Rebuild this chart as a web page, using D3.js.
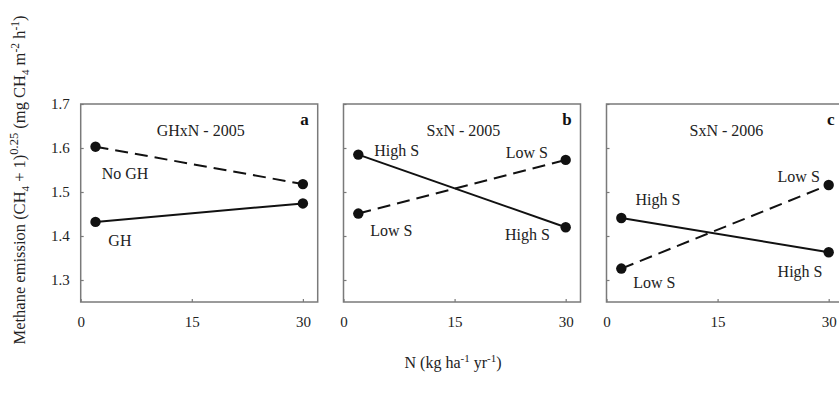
<!DOCTYPE html>
<html>
<head>
<meta charset="utf-8">
<script src="https://cdn.jsdelivr.net/npm/d3@7"></script>
<style>
  html, body { margin: 0; padding: 0; background: #fff; }
  svg { display: block; font-family: "Liberation Serif", "Times New Roman", serif; }
</style>
</head>
<body>
<svg id="chart" width="839" height="402"></svg>
<script>
// ---- data ----
const nLevels = [2, 30];
const xTicks = [0, 15, 30];
const yTicks = [1.3, 1.4, 1.5, 1.6, 1.7];

const panelTitles = ["GHxN - 2005", "SxN - 2005", "SxN - 2006"];
const panelLetters = ["a", "b", "c"];

const aNoGH = [1.603, 1.518];
const aGH = [1.432, 1.474];
const bHighS = [1.585, 1.420];
const bLowS = [1.451, 1.573];
const cHighS = [1.441, 1.363];
const cLowS = [1.326, 1.516];

// series per panel: [values, dashed?]
const panelSeries = [
  [[aNoGH, true], [aGH, false]],
  [[bHighS, false], [bLowS, true]],
  [[cHighS, false], [cLowS, true]]
];

// annotation labels (text, N, value) in data space
const panelLabels = [
  [["No GH", 2.84, 1.529], ["GH", 3.73, 1.377]],
  [["High S", 4.15, 1.582], ["Low S", 21.9, 1.577], ["Low S", 3.6, 1.400], ["High S", 21.8, 1.392]],
  [["High S", 3.9, 1.470], ["Low S", 23.1, 1.523], ["High S", 23.1, 1.307], ["Low S", 3.6, 1.281]]
];

// ---- layout ----
const svg = d3.select("#chart");
const panelLeft = [80.7, 343.5, 606.5];
const panelW = 237;
const plotTop = 104, plotBottom = 302;
const plotH = plotBottom - plotTop;

const x = d3.scaleLinear().domain([0, 32]).range([0, panelW]);
const y = d3.scaleLinear().domain([1.25, 1.7]).range([plotH, 0]);

const frameColor = "#7a7a7a";

panelLeft.forEach((left, i) => {
  const g = svg.append("g").attr("transform", `translate(${left},${plotTop})`);

  // x axis (inward ticks)
  const xa = g.append("g").attr("transform", `translate(0,${plotH})`)
    .call(d3.axisBottom(x).tickValues(xTicks).tickSizeInner(-3).tickSizeOuter(0).tickPadding(14).tickFormat(d3.format("d")));
  xa.attr("font-family", "Liberation Serif");
  xa.select(".domain").remove();
  xa.selectAll("line").attr("stroke", frameColor).attr("stroke-width", 1.2);
  xa.selectAll("text").attr("font-size", 15).attr("fill", "#222");

  // y axis
  const ya = g.append("g")
    .call(d3.axisLeft(y).tickValues(yTicks).tickSizeInner(-3).tickSizeOuter(0).tickPadding(11).tickFormat(d3.format(".1f")));
  ya.attr("font-family", "Liberation Serif");
  ya.select(".domain").remove();
  ya.selectAll("line").attr("stroke", frameColor).attr("stroke-width", 1.2);
  ya.selectAll("text").attr("font-size", 15).attr("fill", "#222");
  if (i > 0) ya.selectAll("text").remove();

  // frame
  g.append("rect").attr("x", 0).attr("y", 0).attr("width", panelW).attr("height", plotH)
    .attr("fill", "none").attr("stroke", frameColor).attr("stroke-width", 1.5);

  // title & letter
  g.append("text").attr("x", x(16.2)).attr("y", y(1.627)).attr("text-anchor", "middle")
    .attr("font-size", 16).attr("fill", "#222").text(panelTitles[i]);
  g.append("text").attr("x", x(30.8)).attr("y", y(1.652)).attr("text-anchor", "end")
    .attr("font-size", 17).attr("font-weight", "bold").attr("fill", "#111").text(panelLetters[i]);

  // series
  const line = d3.line().x((d, j) => x(nLevels[j])).y(d => y(d));
  panelSeries[i].forEach(([vals, dashed]) => {
    g.append("path").datum(vals).attr("d", line).attr("fill", "none")
      .attr("stroke", "#111").attr("stroke-width", 2)
      .attr("stroke-dasharray", dashed ? "13,7" : null);
    g.selectAll(null).data(vals).enter().append("circle")
      .attr("cx", (d, j) => x(nLevels[j])).attr("cy", d => y(d)).attr("r", 5.2).attr("fill", "#111");
  });

  // labels
  panelLabels[i].forEach(([t, nx, vy]) => {
    g.append("text").attr("x", x(nx)).attr("y", y(vy)).attr("font-size", 16).attr("fill", "#222").text(t);
  });
});

// x axis title
const xt = svg.append("text").attr("x", 453).attr("y", 368).attr("text-anchor", "middle")
  .attr("font-size", 16).attr("fill", "#222");
xt.append("tspan").text("N (kg ha");
xt.append("tspan").attr("dy", -6).attr("font-size", 11).text("-1");
xt.append("tspan").attr("dy", 6).text(" yr");
xt.append("tspan").attr("dy", -6).attr("font-size", 11).text("-1");
xt.append("tspan").attr("dy", 6).text(")");

// y axis title
const yt = svg.append("text").attr("transform", "translate(25,180) rotate(-90)")
  .attr("text-anchor", "middle").attr("font-size", 16.5).attr("fill", "#222");
yt.append("tspan").text("Methane emission (CH");
yt.append("tspan").attr("dy", 4).attr("font-size", 11).text("4");
yt.append("tspan").attr("dy", -4).text(" + 1)");
yt.append("tspan").attr("dy", -7).attr("font-size", 12.5).text("0.25");
yt.append("tspan").attr("dy", 7).text(" (mg CH");
yt.append("tspan").attr("dy", 4).attr("font-size", 11).text("4");
yt.append("tspan").attr("dy", -4).text(" m");
yt.append("tspan").attr("dy", -6).attr("font-size", 11.5).text("-2");
yt.append("tspan").attr("dy", 6).text(" h");
yt.append("tspan").attr("dy", -6).attr("font-size", 11.5).text("-1");
yt.append("tspan").attr("dy", 6).text(")");
</script>
</body>
</html>
